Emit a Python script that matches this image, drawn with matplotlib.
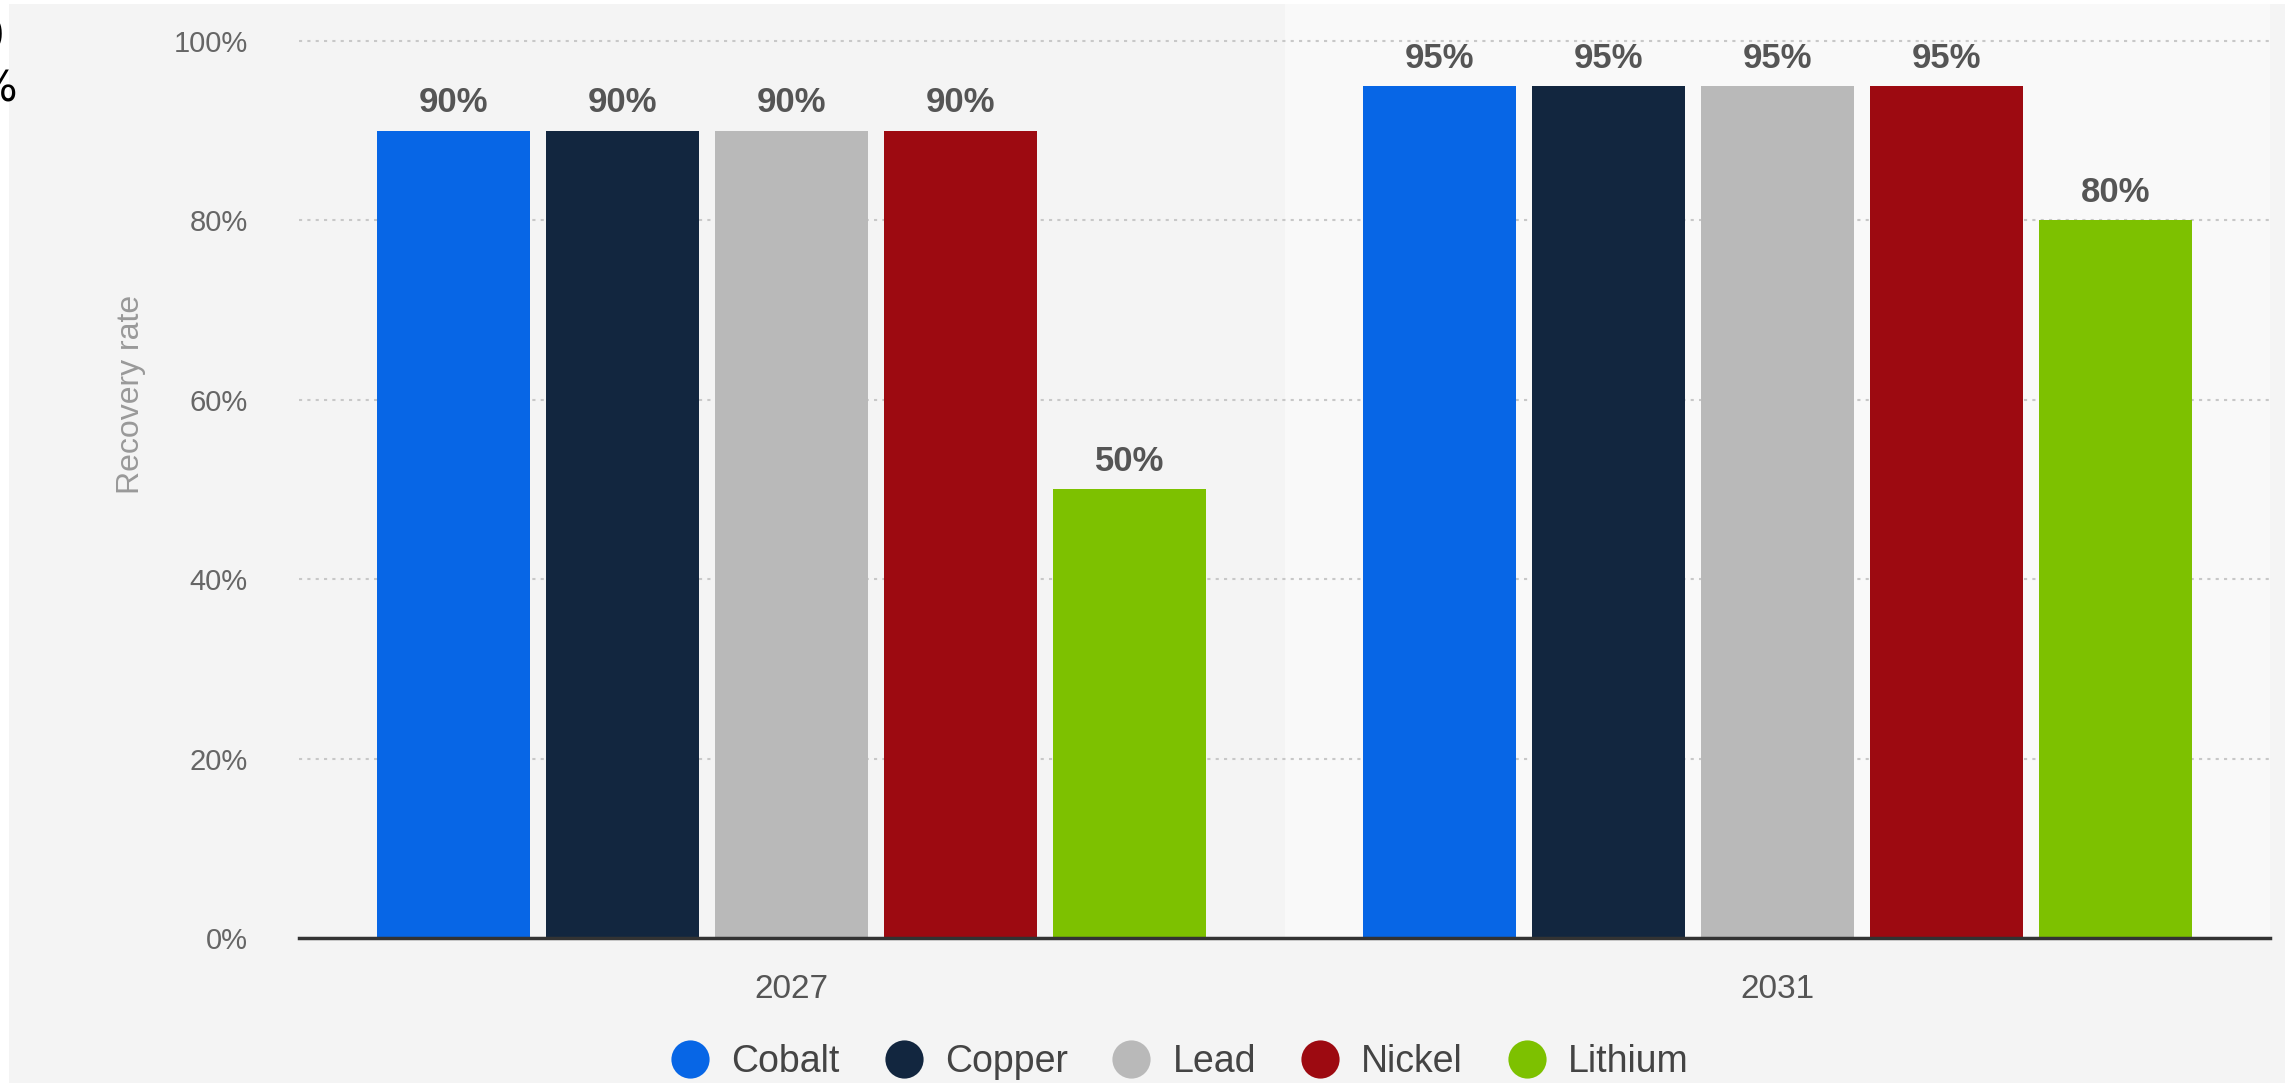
import numpy as np
import matplotlib.pyplot as plt
from matplotlib.lines import Line2D
from matplotlib.patches import Rectangle

plt.rcParams['font.family'] = ['Liberation Sans', 'DejaVu Sans']

years = ['2027', '2031']
metals = ['Cobalt', 'Copper', 'Lead', 'Nickel', 'Lithium']
colors = ['#0766e6', '#12263f', '#b9b9b9', '#9d0a11', '#7dc100']
rates = {
    'Cobalt': [90, 95],
    'Copper': [90, 95],
    'Lead': [90, 95],
    'Nickel': [90, 95],
    'Lithium': [50, 80],
}

W, H = 2285, 1083
fig = plt.figure(figsize=(W / 100, H / 100), dpi=100, facecolor='white')

# grey page area, leaving a thin white strip at the top and left
fig.patches.append(Rectangle((9 / W, 0), 1, 1 - 4 / H, transform=fig.transFigure,
                             facecolor='#f4f4f4', edgecolor='none', zorder=-10))
fig.text(4 / W, 1 - 37 / H, '0', ha='right', va='center', fontsize=30,
         color='black', family='DejaVu Sans')
fig.text(17 / W, 1 - 90 / H, '%', ha='right', va='center', fontsize=30,
         color='black', family='DejaVu Sans')

ax = fig.add_axes([299 / W, 1 - 938 / H, 1971 / W, 934 / H])
ax.set_facecolor('none')

x = np.arange(len(years))
width = 0.155
step = 0.1715

# lighter band behind the second group
ax.axvspan(0.5, 1.5, color='#f9f9f9', zorder=0, lw=0)

for i, m in enumerate(metals):
    vals = np.array(rates[m]) / 100
    pos = x + (i - 2) * step
    bars = ax.bar(pos, vals, width, color=colors[i], zorder=3, label=m)
    for b, v in zip(bars, rates[m]):
        ax.annotate(f'{v}%', (b.get_x() + b.get_width() / 2, b.get_height()),
                    xytext=(0, 13), textcoords='offset points',
                    ha='center', va='baseline', fontsize=25,
                    fontweight='bold', color='#555555', zorder=4)

ax.set_xlim(-0.5, 1.5)
ax.set_ylim(0, 1.041)
ax.set_yticks([0, 0.2, 0.4, 0.6, 0.8, 1.0])
ax.set_yticklabels(['0%', '20%', '40%', '60%', '80%', '100%'])
ax.set_xticks(x)
ax.set_xticklabels(years)
ax.tick_params(axis='y', length=0, pad=37, labelsize=21, labelcolor='#666666')
ax.tick_params(axis='x', length=0, pad=26, labelsize=24, labelcolor='#555555')

for t in [0.2, 0.4, 0.6, 0.8, 1.0]:
    ax.axhline(t, color='#c8c8c8', lw=1.5, ls=(0, (1.5, 2.5)), zorder=1)

for s in ['top', 'right', 'left']:
    ax.spines[s].set_visible(False)
ax.spines['bottom'].set_color('#333333')
ax.spines['bottom'].set_linewidth(2.5)
ax.spines['bottom'].set_zorder(5)

ax.set_ylabel('Recovery rate', fontsize=23, color='#999999')
ax.yaxis.set_label_coords(-0.0775, 0.582)

handles = [Line2D([], [], marker='o', ls='none', markersize=27.5,
                  markerfacecolor=c, markeredgecolor='none') for c in colors]
fig.legend(handles, metals, loc='center', ncol=5,
           bbox_to_anchor=(1180 / W, 1 - 1062 / H), frameon=False,
           fontsize=27, labelcolor='#444444', handlelength=1.0,
           handletextpad=0.6, columnspacing=1.2, borderpad=0)

fig.savefig('out.png', dpi=100, facecolor=fig.get_facecolor())
